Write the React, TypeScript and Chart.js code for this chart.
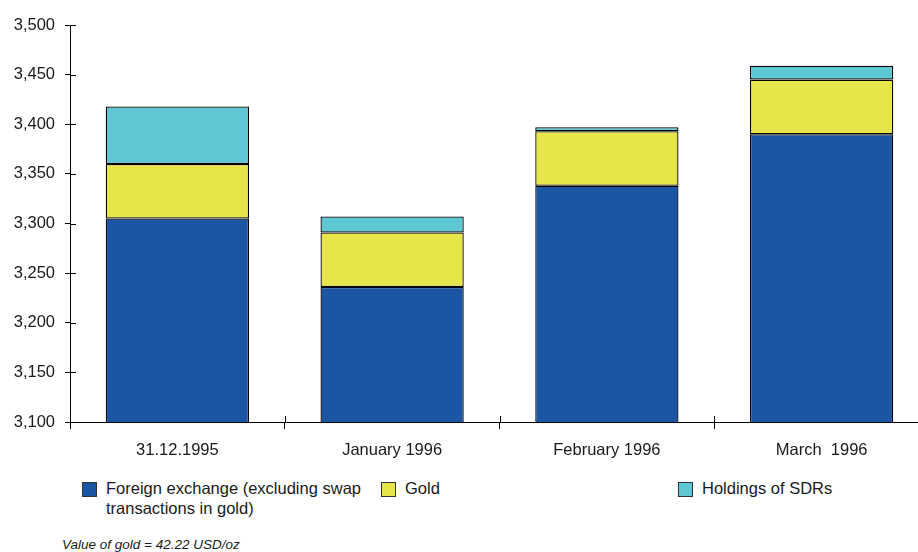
import React, { useEffect, useRef } from "react";
import { Chart, registerables } from "chart.js";

Chart.register(...registerables);

const categories = ["31.12.1995", "January 1996", "February 1996", "March  1996"];
const foreignExchange = [3305, 3236, 3338, 3390];
const gold = [55, 55, 55, 55];
const sdrHoldings = [58, 16, 4, 14];
const yTicks = [3100, 3150, 3200, 3250, 3300, 3350, 3400, 3450, 3500];

const seriesNames = [
  "Foreign exchange (excluding swap\ntransactions in gold)",
  "Gold",
  "Holdings of SDRs",
];
const seriesColors = ["#1b56a5", "#e6e54a", "#5ec7d3"];

const FONT = "'Liberation Sans', Arial, sans-serif";
const TEXT = "#1a1a1a";

// Short tick marks on the inner side of both axes, so ticks cross the axis lines
const crossTicks = {
  id: "crossTicks",
  afterDraw(chart: any) {
    const { ctx, chartArea, scales } = chart;
    const y = scales.y;
    const x = scales.x;
    ctx.save();
    ctx.strokeStyle = "#000";
    ctx.lineWidth = 1;
    ctx.beginPath();
    y.ticks.forEach((_t: any, i: number) => {
      const py = Math.round(y.getPixelForTick(i)) + 0.5;
      ctx.moveTo(chartArea.left, py);
      ctx.lineTo(chartArea.left + 6, py);
    });
    const n = x.ticks.length;
    const w = (chartArea.right - chartArea.left) / n;
    for (let i = 0; i <= n; i++) {
      const px = Math.round(chartArea.left + i * w) + 0.5;
      ctx.moveTo(px, chartArea.bottom);
      ctx.lineTo(px, chartArea.bottom - 6);
    }
    ctx.stroke();
    ctx.restore();
  },
};

function LegendItem({ left, color, text }: { left: number; color: string; text: string }) {
  const lines = text.split("\n");
  return (
    <>
      <div
        style={{
          position: "absolute",
          left,
          top: 482,
          width: 13,
          height: 13,
          background: color,
          border: "1px solid #333",
        }}
      />
      <div
        style={{
          position: "absolute",
          left: left + 24,
          top: 479,
          font: `16.5px ${FONT}`,
          lineHeight: "19.5px",
          color: TEXT,
          whiteSpace: "nowrap",
        }}
      >
        {lines.map((l, i) => (
          <div key={i}>{l}</div>
        ))}
      </div>
    </>
  );
}

export default function App() {
  const canvasRef = useRef<HTMLCanvasElement | null>(null);

  useEffect(() => {
    if (!canvasRef.current) return;
    const chart = new Chart(canvasRef.current, {
      type: "bar",
      data: {
        labels: categories,
        datasets: [foreignExchange, gold, sdrHoldings].map((d, i) => ({
          label: seriesNames[i],
          data: d,
          backgroundColor: seriesColors[i],
          borderColor: "#000",
          borderWidth: 1.3,
          borderSkipped: false,
          categoryPercentage: 1,
          barPercentage: 0.667,
        })),
      },
      options: {
        responsive: false,
        animation: false,
        devicePixelRatio: 1,
        layout: { padding: { top: 25, right: 3, left: 0, bottom: 0 } },
        plugins: { legend: { display: false }, tooltip: { enabled: false } },
        scales: {
          x: {
            type: "category",
            stacked: true,
            offset: true,
            grid: {
              offset: true,
              drawOnChartArea: false,
              drawTicks: true,
              tickLength: 7,
              color: "#000",
            },
            border: { color: "#000", width: 1 },
            ticks: {
              padding: 12,
              color: TEXT,
              font: { family: FONT, size: 16.5 },
              maxRotation: 0,
            },
            afterFit(scale: any) {
              scale.height = 40;
            },
          },
          y: {
            stacked: true,
            min: yTicks[0],
            max: yTicks[yTicks.length - 1],
            afterBuildTicks(scale: any) {
              scale.ticks = yTicks.map((v) => ({ value: v }));
            },
            grid: {
              drawOnChartArea: false,
              drawTicks: true,
              tickLength: 5,
              color: "#000",
            },
            border: { color: "#000", width: 1 },
            ticks: {
              padding: 10,
              color: TEXT,
              font: { family: FONT, size: 16.5 },
              callback: (v: any) => Number(v).toLocaleString("en-US"),
            },
            afterFit(scale: any) {
              scale.width = 70;
            },
          },
        },
      },
      plugins: [crossTicks],
    });
    return () => chart.destroy();
  }, []);

  return (
    <div
      style={{
        position: "absolute",
        left: 0,
        top: 0,
        width: 918,
        height: 552,
        overflow: "hidden",
        background: "#fff",
      }}
    >
      <canvas
        ref={canvasRef}
        width={932}
        height={462}
        style={{ position: "absolute", left: 0, top: 0, width: 932, height: 462 }}
      />
      <LegendItem left={82} color={seriesColors[0]} text={seriesNames[0]} />
      <LegendItem left={381} color={seriesColors[1]} text={seriesNames[1]} />
      <LegendItem left={678} color={seriesColors[2]} text={seriesNames[2]} />
      <div
        style={{
          position: "absolute",
          left: 62,
          top: 537,
          font: `italic 13.5px ${FONT}`,
          lineHeight: "15px",
          color: TEXT,
          whiteSpace: "nowrap",
        }}
      >
        Value of gold = 42.22 USD/oz
      </div>
    </div>
  );
}
